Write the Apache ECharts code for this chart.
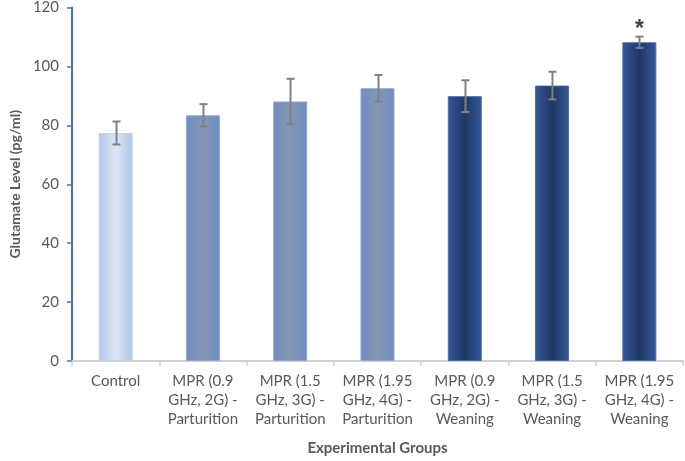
<!DOCTYPE html>
<html><head><meta charset="utf-8">
<script src="https://cdn.jsdelivr.net/npm/echarts@6/dist/echarts.min.js"></script>
<style>html,body{margin:0;padding:0;background:#fff}#c{width:685px;height:461px}</style>
</head><body><div id="c"></div>
<script>
const categories = ['Control','MPR (0.9\nGHz, 2G) -\nParturition','MPR (1.5\nGHz, 3G) -\nParturition','MPR (1.95\nGHz, 4G) -\nParturition','MPR (0.9\nGHz, 2G) -\nWeaning','MPR (1.5\nGHz, 3G) -\nWeaning','MPR (1.95\nGHz, 4G) -\nWeaning'];
const means = [77.4, 83.4, 88.1, 92.6, 89.9, 93.5, 108.2];
const errors = [3.9, 3.8, 7.7, 4.5, 5.4, 4.7, 1.9];
const groups = ['control','parturition','parturition','parturition','weaning','weaning','weaning'];
const significance = ['', '', '', '', '', '', '*'];
const yTicks = [0, 20, 40, 60, 80, 100, 120];

const grad = (edge, mid) => ({type:'linear',x:0,y:0,x2:1,y2:0,colorStops:[{offset:0,color:edge},{offset:0.5,color:mid},{offset:1,color:edge}]});
const styles = {
  control: {color: grad('#b3c6e8','#dde5f4'), borderColor:'#c5d4ee'},
  parturition: {color: grad('#6f8dc3','#8497b0'), borderColor:'#8fa8d6'},
  weaning: {color: grad('#34579a','#203864'), borderColor:'#4a6db0'}
};
const font = 'Lato, sans-serif';
const chart = echarts.init(document.getElementById('c'));
chart.setOption({
  animation:false,
  grid:{left:58,right:2,top:5,bottom:89,containLabel:false},
  xAxis:{type:'category',data:categories,
    axisLine:{lineStyle:{color:'#d0d0d0',width:2}},
    axisTick:{show:true,length:5,lineStyle:{color:'#d0d0d0',width:1.5}},
    axisLabel:{color:'#595959',fontFamily:font,fontSize:15,lineHeight:19,margin:11,interval:0},
    name:'Experimental Groups',nameLocation:'middle',nameGap:80,
    nameTextStyle:{color:'#595959',fontFamily:font,fontSize:15,fontWeight:'bold'}},
  yAxis:{type:'value',min:0,max:120,interval:20,
    axisLine:{show:true,lineStyle:{color:'#4472c4',width:2}},
    axisTick:{show:true,length:5,lineStyle:{color:'#4472c4',width:1.5}},
    splitLine:{show:false},
    axisLabel:{color:'#595959',fontFamily:font,fontSize:15,margin:13,
      formatter:v=>yTicks.includes(v)?String(v):''},
    name:'Glutamate Level (pg/ml)',nameLocation:'middle',nameGap:50,
    nameTextStyle:{color:'#595959',fontFamily:font,fontSize:14,fontWeight:'bold'}},
  series:[
    {type:'bar',barWidth:34,
     data:means.map((v,i)=>({value:v,itemStyle:{color:styles[groups[i]].color,borderColor:styles[groups[i]].borderColor,borderWidth:1}}))},
    {type:'custom',
     data:means.map((v,i)=>[i,v-errors[i],v+errors[i]]),
     renderItem:(params,api)=>{
       const i=api.value(0);
       const lo=api.coord([i,api.value(1)]);
       const hi=api.coord([i,api.value(2)]);
       const x=Math.round(lo[0])+0.5;
       const st={stroke:'#808080',lineWidth:2};
       const cap=4;
       const children=[
         {type:'line',shape:{x1:x,y1:hi[1],x2:x,y2:lo[1]},style:st},
         {type:'line',shape:{x1:x-cap,y1:hi[1],x2:x+cap,y2:hi[1]},style:st},
         {type:'line',shape:{x1:x-cap,y1:lo[1],x2:x+cap,y2:lo[1]},style:st}
       ];
       if(significance[i]){
         children.push({type:'text',style:{text:significance[i],x:x,y:hi[1]-7,align:'center',verticalAlign:'middle',fill:'#404040',font:'bold 23px "Liberation Sans", sans-serif'}});
       }
       return {type:'group',children};
     },z:5}
  ]
});
</script></body></html>
